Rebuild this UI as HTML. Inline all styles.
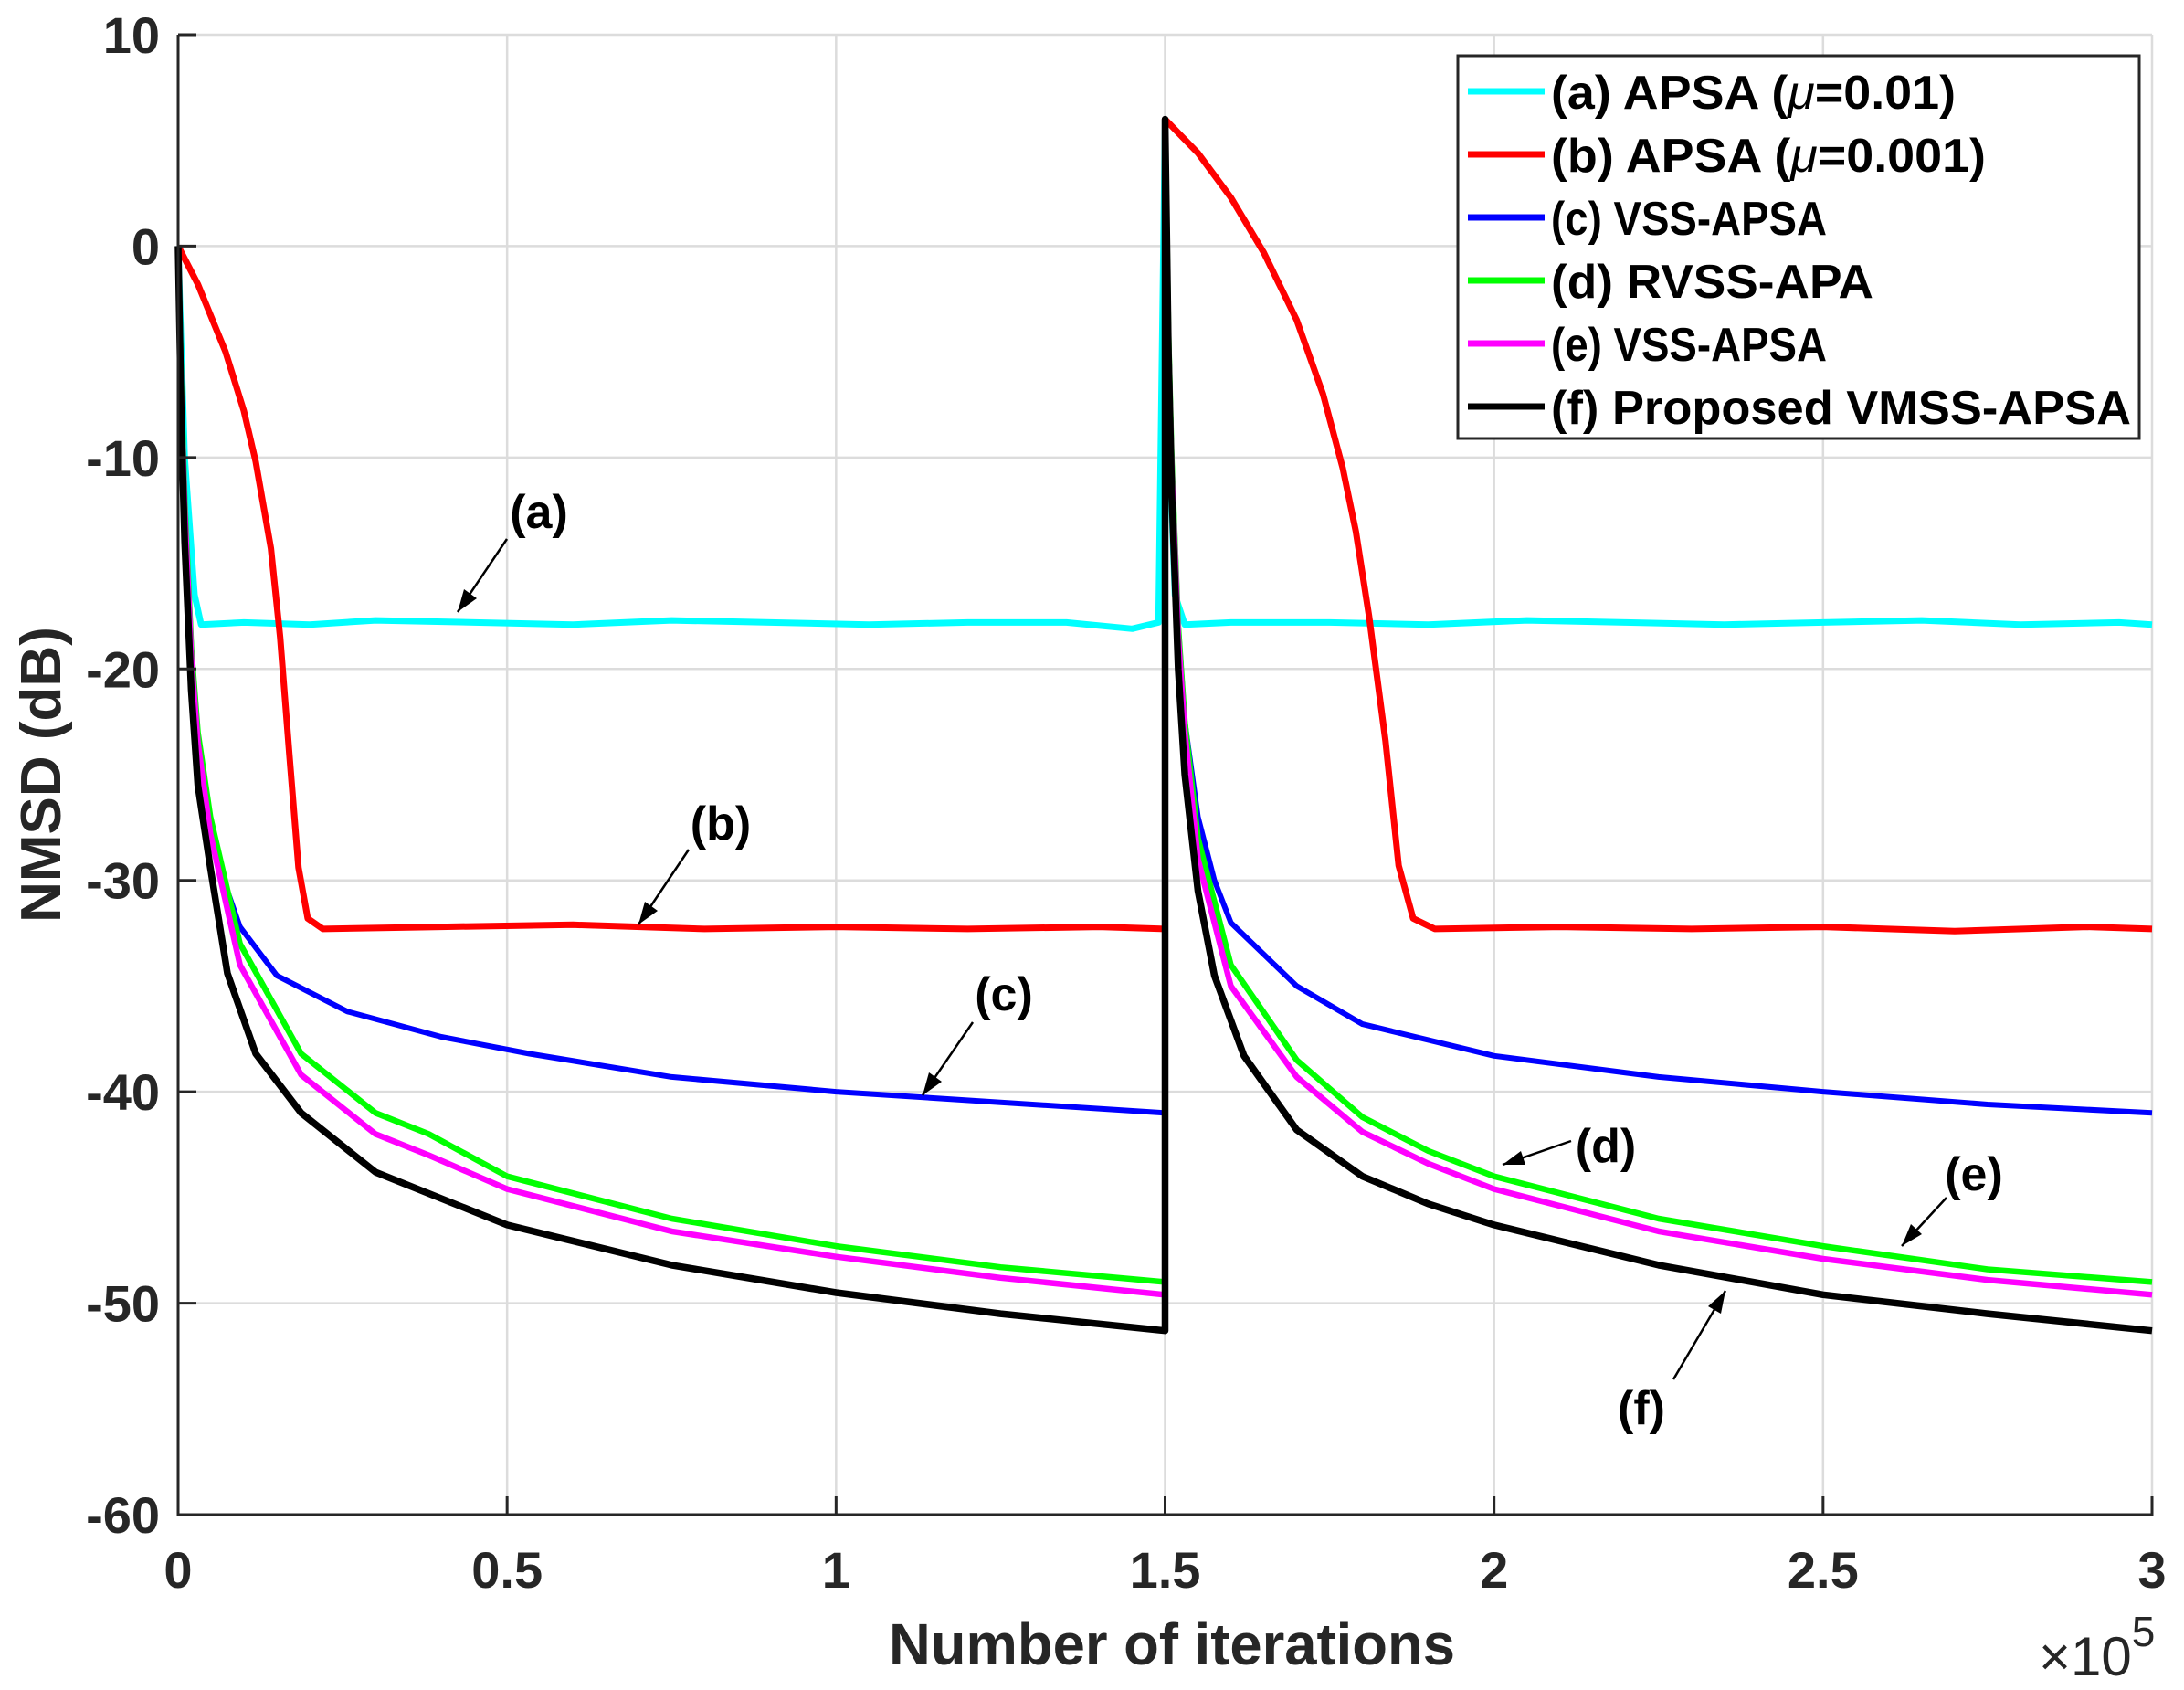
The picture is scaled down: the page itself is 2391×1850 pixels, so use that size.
<!DOCTYPE html>
<html><head><meta charset="utf-8"><style>
html,body{margin:0;padding:0;background:#fff;}
svg{display:block;font-family:"Liberation Sans",Arial,sans-serif;}
</style></head><body>
<svg id="chart" width="2391" height="1850" viewBox="0 0 2391 1850" xmlns="http://www.w3.org/2000/svg"></svg>
<script>
// ---- data (x in units of 1e5 iterations, y in dB) ----
const xTicks = [0, 0.5, 1, 1.5, 2, 2.5, 3];
const xTickLabels = ["0", "0.5", "1", "1.5", "2", "2.5", "3"];
const yTicks = [10, 0, -10, -20, -30, -40, -50, -60];
const yTickLabels = ["10", "0", "-10", "-20", "-30", "-40", "-50", "-60"];

const xA = [0, 0.01, 0.025, 0.035, 0.1, 0.2, 0.3, 0.45, 0.6, 0.75, 0.9, 1.05, 1.2, 1.35, 1.45, 1.49, 1.5, 1.505, 1.515, 1.53, 1.6, 1.75, 1.9, 2.05, 2.2, 2.35, 2.5, 2.65, 2.8, 2.95, 3.0];
const yA = [0, -10, -16.5, -17.9, -17.8, -17.9, -17.7, -17.8, -17.9, -17.7, -17.8, -17.9, -17.8, -17.8, -18.1, -17.8, 6, -8, -16.5, -17.9, -17.8, -17.8, -17.9, -17.7, -17.8, -17.9, -17.8, -17.7, -17.9, -17.8, -17.9];

const xB = [0, 0.03, 0.072, 0.1, 0.118, 0.141, 0.155, 0.169, 0.183, 0.197, 0.22, 0.4, 0.6, 0.8, 1.0, 1.2, 1.4, 1.5, 1.5, 1.55, 1.6, 1.65, 1.7, 1.74, 1.77, 1.79, 1.81, 1.835, 1.855, 1.877, 1.91, 2.1, 2.3, 2.5, 2.7, 2.9, 3.0];
const yB = [0, -1.8, -5, -7.8, -10.2, -14.3, -18.5, -24, -29.4, -31.8, -32.3, -32.2, -32.1, -32.3, -32.2, -32.3, -32.2, -32.3, 6, 4.4, 2.3, -0.3, -3.5, -7, -10.5, -13.5, -17.5, -23.4, -29.3, -31.8, -32.3, -32.2, -32.3, -32.2, -32.4, -32.2, -32.3];

const xC = [0, 0.005, 0.01, 0.02, 0.03, 0.05, 0.075, 0.094, 0.15, 0.257, 0.4, 0.534, 0.75, 1.0, 1.25, 1.5, 1.5, 1.505, 1.51, 1.52, 1.53, 1.55, 1.575, 1.6, 1.7, 1.8, 2.0, 2.25, 2.5, 2.75, 3.0];
const yC = [0, -7, -12, -19, -23.5, -27.5, -30.5, -32.2, -34.5, -36.2, -37.4, -38.2, -39.3, -40, -40.5, -41, 6, -4, -10, -18, -22.5, -27, -30, -32, -35, -36.8, -38.3, -39.3, -40, -40.6, -41];

const xD = [0, 0.005, 0.01, 0.02, 0.03, 0.049, 0.094, 0.187, 0.3, 0.381, 0.5, 0.75, 1.0, 1.25, 1.5, 1.5, 1.505, 1.51, 1.52, 1.53, 1.55, 1.6, 1.7, 1.8, 1.9, 2.0, 2.25, 2.5, 2.75, 3.0];
const yD = [0, -7, -12, -19, -23, -27, -33, -38.2, -41, -42, -44, -46, -47.3, -48.3, -49, 6, -4, -10, -18, -22.5, -28, -34, -38.5, -41.2, -42.8, -44, -46, -47.3, -48.4, -49];

const xE = [0, 0.005, 0.01, 0.02, 0.03, 0.049, 0.094, 0.187, 0.3, 0.381, 0.5, 0.75, 1.0, 1.25, 1.5, 1.5, 1.505, 1.51, 1.52, 1.53, 1.55, 1.6, 1.7, 1.8, 1.9, 2.0, 2.25, 2.5, 2.75, 3.0];
const yE = [0, -7.5, -12.5, -19.5, -23.5, -27.8, -34, -39.2, -42, -43, -44.6, -46.6, -47.8, -48.8, -49.6, 6, -4.5, -10.5, -18.5, -23, -29, -35, -39.3, -41.9, -43.4, -44.6, -46.6, -47.9, -48.9, -49.6];

const xF = [0, 0.005, 0.01, 0.02, 0.03, 0.049, 0.075, 0.118, 0.187, 0.3, 0.5, 0.75, 1.0, 1.25, 1.5, 1.5, 1.505, 1.51, 1.52, 1.53, 1.55, 1.575, 1.62, 1.7, 1.8, 1.9, 2.0, 2.25, 2.5, 2.75, 3.0];
const yF = [0, -8.5, -14, -21, -25.5, -29.4, -34.4, -38.2, -41, -43.8, -46.3, -48.2, -49.5, -50.5, -51.3, 6, -5, -11.5, -20, -25, -30.5, -34.5, -38.3, -41.8, -44, -45.3, -46.3, -48.2, -49.6, -50.5, -51.3];

// ---- layout ----
const L = 195, R = 2356, T = 38, B = 1658;
const xMin = 0, xMax = 3, yMin = -60, yMax = 10;
function sx(v){ return L + (v - xMin) / (xMax - xMin) * (R - L); }
function sy(v){ return B - (v - yMin) / (yMax - yMin) * (B - T); }

const NS = "http://www.w3.org/2000/svg";
const svg = document.getElementById("chart");
function mk(tag, attrs, parent){
  const e = document.createElementNS(NS, tag);
  for (const k in attrs) e.setAttribute(k, attrs[k]);
  (parent || svg).appendChild(e);
  return e;
}

// grid
const grid = mk("g", {});


xTicks.forEach(function(t){
  const l = mk("line", {x1: sx(t), x2: sx(t), y1: T, y2: B, stroke: "#dcdcdc", "stroke-width": 2.5}, grid);
  
  
});
yTicks.forEach(function(t){
  const l = mk("line", {x1: L, x2: R, y1: sy(t), y2: sy(t), stroke: "#dcdcdc", "stroke-width": 2.5}, grid);
  
  
});

// series
const series = [
  {x: xA, y: yA, c: "#00ffff", n: "series-a-apsa-mu-0.01", w: 7},
  {x: xB, y: yB, c: "#ff0000", n: "series-b-apsa-mu-0.001", w: 7},
  {x: xC, y: yC, c: "#0000ff", n: "series-c-vss-apsa", w: 6},
  {x: xD, y: yD, c: "#00ff00", n: "series-d-rvss-apa", w: 6.5},
  {x: xE, y: yE, c: "#ff00ff", n: "series-e-vss-apsa", w: 6.5},
  {x: xF, y: yF, c: "#000000", n: "series-f-proposed-vmss-apsa", w: 7.5}
];
series.forEach(function(s){
  let d = "";
  for (let i = 0; i < s.x.length; i++) d += (i ? "L" : "M") + sx(s.x[i]).toFixed(1) + "," + sy(s.y[i]).toFixed(1);
  const p = mk("path", {d: d, fill: "none", stroke: s.c, "stroke-width": s.w, "stroke-linejoin": "round"});
  
  
});

// axes
const ax = mk("path", {d: "M" + L + "," + T + "L" + L + "," + B + "L" + R + "," + B + "L" + R + "," + (B - 20), fill: "none", stroke: "#262626", "stroke-width": 3});


xTicks.forEach(function(t, i){
  const tk = mk("line", {x1: sx(t), x2: sx(t), y1: B, y2: B - 20, stroke: "#262626", "stroke-width": 3});
  
  
  const tx = mk("text", {x: sx(t), y: 1738, "text-anchor": "middle", "font-size": 56, "font-weight": "bold", fill: "#262626"});
  tx.textContent = xTickLabels[i];
  
  
});
yTicks.forEach(function(t, i){
  const tk = mk("line", {x1: L, x2: L + 20, y1: sy(t), y2: sy(t), stroke: "#262626", "stroke-width": 3});
  
  
  const tx = mk("text", {x: 175, y: sy(t) + 20, "text-anchor": "end", "font-size": 56, "font-weight": "bold", fill: "#262626"});
  tx.textContent = yTickLabels[i];
  
  
});
</script>
<svg style="position:absolute;left:0;top:0" width="2391" height="1850">
  <text x="1283" y="1822" text-anchor="middle" font-size="64" font-weight="bold" fill="#262626" font-family="Liberation Sans, sans-serif" textLength="620" lengthAdjust="spacingAndGlyphs">Number of iterations</text>
  <text x="2232" y="1834" font-size="60" fill="#262626" font-family="Liberation Sans, sans-serif">×10<tspan font-size="46" dy="-32">5</tspan></text>
  <text transform="translate(66,848) rotate(-90)" text-anchor="middle" font-size="62" font-weight="bold" fill="#262626" font-family="Liberation Sans, sans-serif">NMSD (dB)</text>
  <g font-family="Liberation Sans, sans-serif" font-weight="bold" font-size="52" fill="#000">
    <rect x="1596" y="61" width="746" height="419" fill="#fff" stroke="#262626" stroke-width="3"/>
    <line x1="1607" x2="1691" y1="100" y2="100" stroke="#00ffff" stroke-width="7"/>
    <text x="1698" y="119" textLength="443" lengthAdjust="spacingAndGlyphs">(a) APSA (<tspan font-style="italic" font-weight="normal">μ</tspan>=0.01)</text>
    <line x1="1607" x2="1691" y1="169" y2="169" stroke="#ff0000" stroke-width="7"/>
    <text x="1698" y="188" textLength="476" lengthAdjust="spacingAndGlyphs">(b) APSA (<tspan font-style="italic" font-weight="normal">μ</tspan>=0.001)</text>
    <line x1="1607" x2="1691" y1="238" y2="238" stroke="#0000ff" stroke-width="7"/>
    <text x="1698" y="257" textLength="302" lengthAdjust="spacingAndGlyphs">(c) VSS-APSA</text>
    <line x1="1607" x2="1691" y1="307" y2="307" stroke="#00ff00" stroke-width="7"/>
    <text x="1698" y="326" textLength="353" lengthAdjust="spacingAndGlyphs">(d) RVSS-APA</text>
    <line x1="1607" x2="1691" y1="376" y2="376" stroke="#ff00ff" stroke-width="7"/>
    <text x="1698" y="395" textLength="302" lengthAdjust="spacingAndGlyphs">(e) VSS-APSA</text>
    <line x1="1607" x2="1691" y1="445" y2="445" stroke="#000" stroke-width="7"/>
    <text x="1698" y="464" textLength="635" lengthAdjust="spacingAndGlyphs">(f) Proposed VMSS-APSA</text>
  </g>
  <g font-family="Liberation Sans, sans-serif" font-weight="bold" font-size="52" fill="#000" stroke-width="2.5">
    <g><text x="590" y="578" text-anchor="middle">(a)</text><line x1="555" y1="590" x2="501" y2="670" stroke="#000"/><path d="M501,670 L508,645 L522,655 Z" fill="#000"/></g>
    <g><text x="789" y="919" text-anchor="middle">(b)</text><line x1="754" y1="930" x2="699" y2="1012" stroke="#000"/><path d="M699,1012 L706,987 L720,997 Z" fill="#000"/></g>
    <g><text x="1099" y="1106" text-anchor="middle">(c)</text><line x1="1065" y1="1119" x2="1010" y2="1199" stroke="#000"/><path d="M1010,1199 L1017,1174 L1031,1184 Z" fill="#000"/></g>
    <g><text x="1758" y="1272" text-anchor="middle">(d)</text><line x1="1720" y1="1249" x2="1645" y2="1275" stroke="#000"/><path d="M1645,1275 L1665,1260 L1670,1275 Z" fill="#000"/></g>
    <g><text x="2161" y="1303" text-anchor="middle">(e)</text><line x1="2131" y1="1311" x2="2082" y2="1364" stroke="#000"/><path d="M2082,1364 L2092,1340 L2104,1351 Z" fill="#000"/></g>
    <g><text x="1797" y="1559" text-anchor="middle">(f)</text><line x1="1832" y1="1510" x2="1889" y2="1413" stroke="#000"/><path d="M1889,1413 L1884,1438 L1870,1430 Z" fill="#000"/></g>
  </g>
</svg>
</body></html>
